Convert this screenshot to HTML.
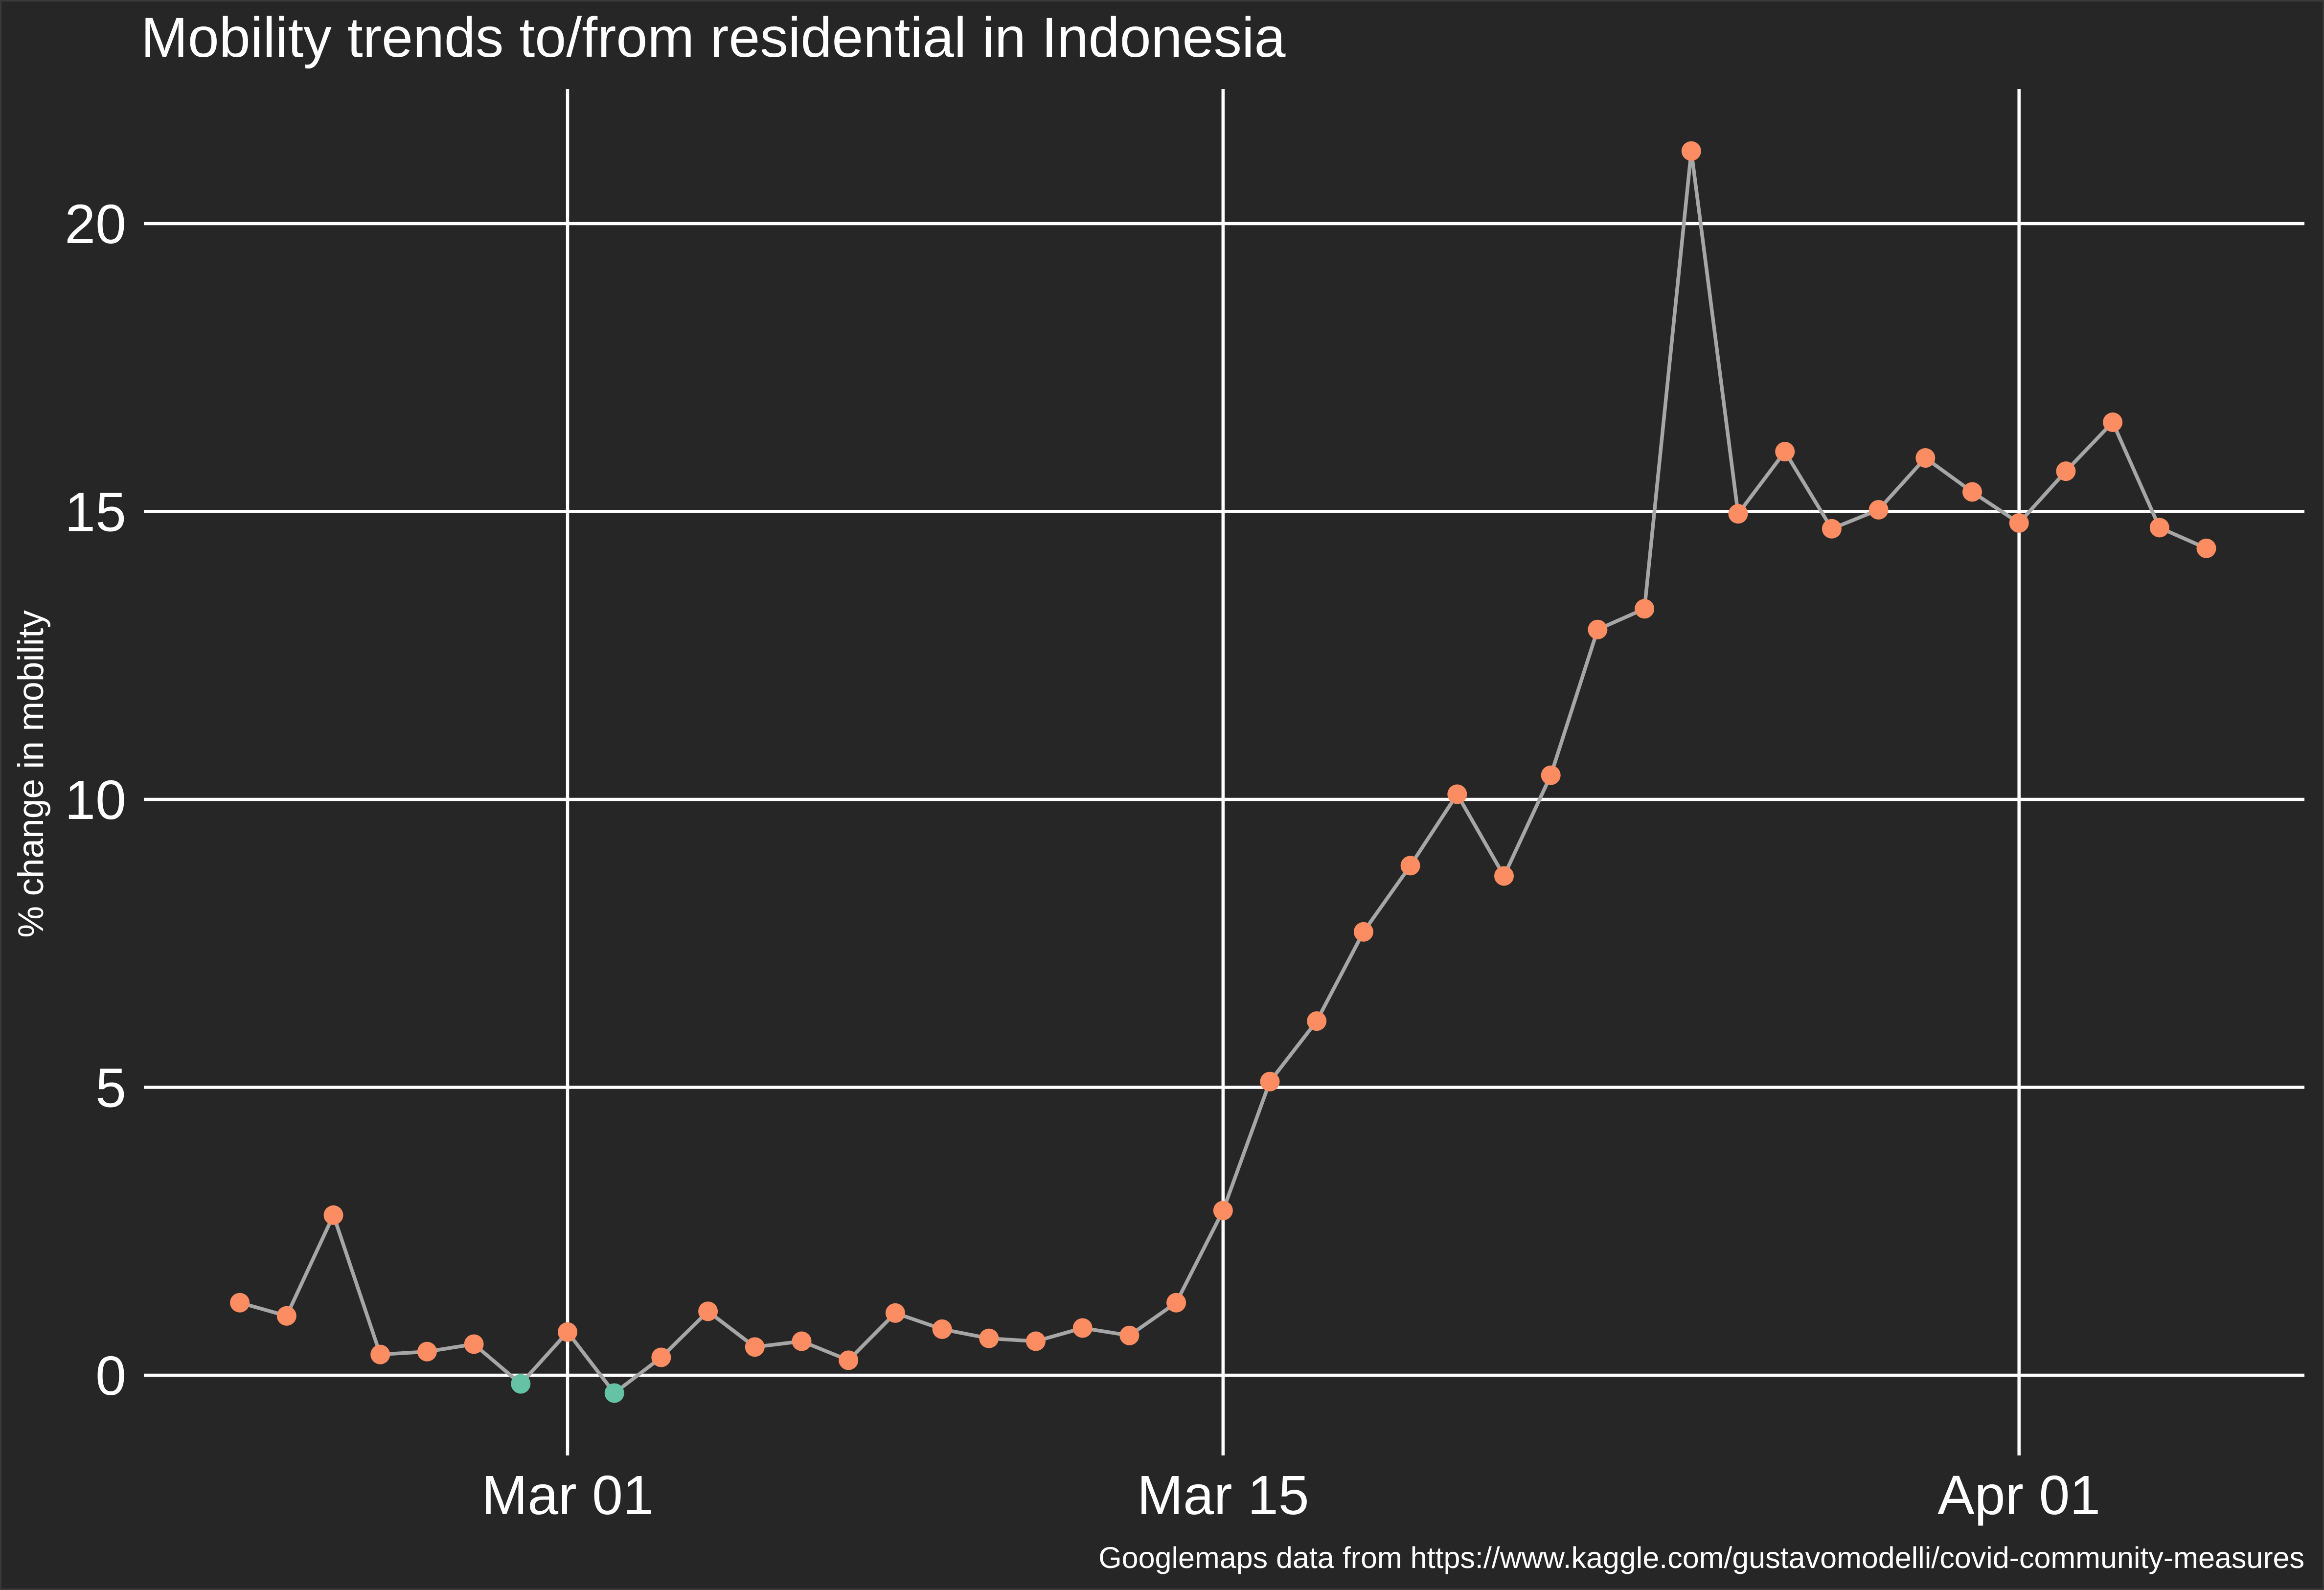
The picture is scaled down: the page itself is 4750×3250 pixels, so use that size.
<!DOCTYPE html>
<html><head><meta charset="utf-8"><style>
html,body{margin:0;padding:0;background:#262626;}
svg{display:block;font-family:"Liberation Sans",Arial,sans-serif;}
</style></head><body>
<svg id="chart" width="4750" height="3250" viewBox="0 0 4750 3250" xmlns="http://www.w3.org/2000/svg">
<rect x="0" y="0" width="4750" height="3250" fill="#262626" stroke="#3a3a3a" stroke-width="6"/>
<text x="288" y="116" font-size="115" fill="#ffffff">Mobility trends to/from residential in Indonesia</text>
<text transform="translate(88,1582) rotate(-90)" text-anchor="middle" font-size="73" fill="#ffffff">% change in mobility</text>
<text x="4710" y="3205" text-anchor="end" font-size="61" fill="#ffffff">Googlemaps data from https://www.kaggle.com/gustavomodelli/covid-community-measures</text>
<g id="grid"></g>
<g id="series"></g>
</svg>
<script>
const yTicks = [0, 5, 10, 15, 20];
const xTickLabels = ["Mar 01", "Mar 15", "Apr 01"];
const xTickDays = [7, 21, 38];
const values = [1.26,1.03,2.78,0.36,0.41,0.54,-0.15,0.75,-0.31,0.31,1.11,0.49,0.59,0.26,1.08,0.80,0.64,0.59,0.82,0.69,1.26,2.86,5.10,6.15,7.70,8.85,10.09,8.67,10.42,12.95,13.31,21.26,14.96,16.04,14.70,15.03,15.93,15.34,14.80,15.70,16.55,14.72,14.36];

const NS = "http://www.w3.org/2000/svg";
const x = d => 1160 + (d - 7) * 95.7;
const y = v => 2811 - v * 117.7;
const grid = document.getElementById('grid');
const series = document.getElementById('series');
function mk(tag, attrs, parent){const e=document.createElementNS(NS,tag);for(const k in attrs)e.setAttribute(k,attrs[k]);parent.appendChild(e);return e;}

yTicks.forEach(t=>{
  const l = mk('line',{x1:294,x2:4710,y1:y(t),y2:y(t),stroke:'#ffffff','stroke-width':6.5},grid);
  
  
  const tx = mk('text',{x:258,y:y(t)+40,'text-anchor':'end','font-size':113,fill:'#ffffff'},grid);
  tx.textContent = t;
  
  
});
xTickDays.forEach((d,i)=>{
  const l = mk('line',{x1:x(d),x2:x(d),y1:182,y2:2975,stroke:'#ffffff','stroke-width':6.5},grid);
  
  
  const tx = mk('text',{x:x(d),y:3095,'text-anchor':'middle','font-size':113,fill:'#ffffff'},grid);
  tx.textContent = xTickLabels[i];
  
  
});
const pts = values.map((v,i)=>x(i)+','+y(v)).join(' ');
const line = mk('polyline',{points:pts,fill:'none',stroke:'#a6a6a6','stroke-width':7.5},series);


values.forEach((v,i)=>{
  const c = mk('circle',{cx:x(i),cy:y(v),r:20,fill:v<0?'#66C2A5':'#FC8D62'},series);
  
  
});
</script>
</body></html>
